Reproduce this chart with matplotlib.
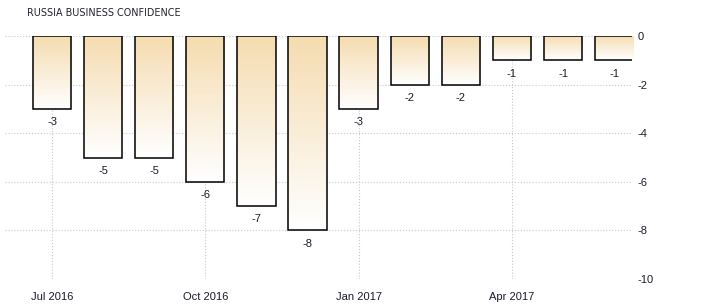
import numpy as np
import matplotlib.pyplot as plt
from matplotlib.colors import LinearSegmentedColormap

months = ['Jul 2016', 'Aug 2016', 'Sep 2016', 'Oct 2016', 'Nov 2016', 'Dec 2016',
          'Jan 2017', 'Feb 2017', 'Mar 2017', 'Apr 2017', 'May 2017', 'Jun 2017']
values = [-3, -5, -5, -6, -7, -8, -3, -2, -2, -1, -1, -1]
tick_idx = [0, 3, 6, 9]
yticks = [0, -2, -4, -6, -8, -10]

plt.rcParams['font.family'] = ['Liberation Sans', 'DejaVu Sans']

fig = plt.figure(figsize=(7.01, 3.08), dpi=100)
ax = fig.add_axes([5/701, 29/308, 627/701, 243/308])

x = np.arange(len(values))
cmap = LinearSegmentedColormap.from_list('bar', ['#ffffff', '#f5dcb0'])
grad = np.linspace(0, 1, 100).reshape(-1, 1)

bars = ax.bar(x, values, width=0.75, facecolor='none', edgecolor='black', linewidth=1.1, zorder=3)
for b, v in zip(bars, values):
    x0 = b.get_x()
    im = ax.imshow(grad, cmap=cmap, aspect='auto', origin='lower',
                   extent=[x0, x0 + b.get_width(), v, 0], zorder=2)
    im.set_clip_path(b)
    ax.text(b.get_x() + b.get_width()/2, v - 0.55, str(v), ha='center', va='center',
            fontsize=8, color='#1a1a2a')

ax.set_xlim(-0.92, 11.35)
ax.set_ylim(-10, 0)
ax.set_xticks(tick_idx)
ax.set_xticklabels([months[i] for i in tick_idx])
ax.set_yticks(yticks)
ax.set_yticklabels([str(t) for t in yticks])
ax.yaxis.tick_right()
ax.tick_params(axis='both', length=0, labelsize=8, colors='#1a1a2a')
ax.tick_params(axis='y', pad=4)
ax.tick_params(axis='x', pad=9)
ax.grid(True, linestyle=':', color='#c8c8c8', linewidth=0.8, zorder=0)
ax.set_axisbelow(True)
for s in ax.spines.values():
    s.set_visible(False)

fig.text(27/701, 1 - 13/308, 'RUSSIA BUSINESS CONFIDENCE', fontsize=6.9, color='#222233',
         va='center', ha='left', family=['DejaVu Sans Condensed', 'DejaVu Sans'])

fig.savefig('out.png', dpi=100)
